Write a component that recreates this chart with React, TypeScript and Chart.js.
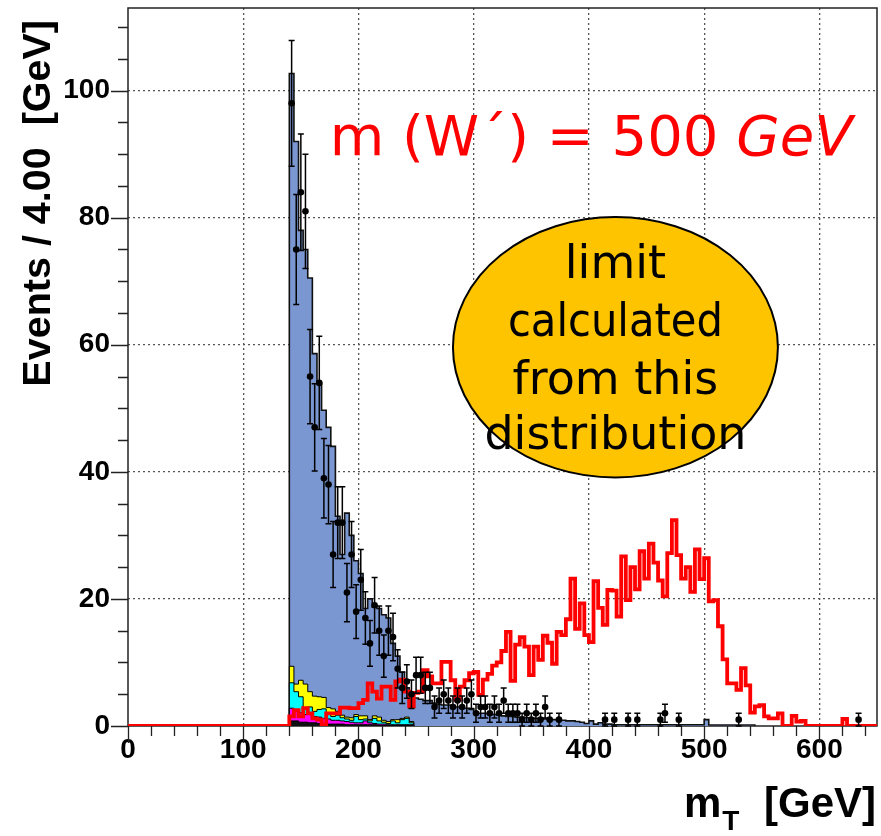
import React, { useEffect, useRef } from 'react';
import { Chart, registerables } from 'chart.js';

Chart.register(...registerables);

// ---------------- data ----------------
const BIN_WIDTH = 4; // GeV
const FIRST_EDGE = 140; // GeV, lower edge of first filled bin
const X_MIN = 0;
const X_MAX = 650;
const Y_MIN = 0;
const Y_MAX = 113;
const X_TICKS = [0, 100, 200, 300, 400, 500, 600];
const Y_TICKS = [0, 20, 40, 60, 80, 100];
const X_MINOR_STEP = 20;
const Y_MINOR_STEP = 5;

// W+jets (blue) contribution per 4 GeV bin, starting at 140 GeV
const WJETS = [
  93.3, 85.4, 70.8, 68.4, 65.1, 53.9, 49.4, 45.2, 44.1, 41.3,
  30.7, 25.3, 32.1, 28.7, 24.2, 22.4, 16.9, 19.0, 17.1, 17.1,
  16.6, 16.3, 12.0, 10.0, 7.3, 4.6, 4.1, 4.4, 4.2, 4.0,
  4.0, 3.6, 3.4, 3.3, 3.3, 3.2, 3.0, 2.8, 2.8, 2.6,
  2.2, 2.0, 2.0, 1.9, 1.8, 1.7, 1.6, 1.5, 1.5, 1.4,
  1.4, 1.3, 1.3, 1.2, 1.2, 1.1, 1.0, 1.0, 0.9, 0.9,
  0.8, 0.8, 0.7, 0.6, 0.4, 0.8, 0.3, 0.5, 0.3, 0.3,
  0.2, 0.2, 0.2, 0.2, 0.2, 0.2, 0.2, 0.2, 0.2, 0.2,
  0.2, 0.2, 0.2, 0.2, 0.2, 0.2, 0.2, 0.2, 0.2, 0.2,
  1.0, 0.15, 0.15, 0.15, 0.15, 0.15, 0.15, 0.15, 0.15, 0.15,
  0.15,
];

// small backgrounds (stacked under the blue), starting at 140 GeV
const YELLOW = [
  2.6, 1.2, 2.6, 3.8, 2.4, 2.4, 2.0, 1.8, 1.0, 1.2,
  0.6, 0.4, 0.3, 0.4, 0.3, 0.6, 0.5, 0.2, 0.4, 0.6,
  0.3, 0.3, 0.2, 0.5, 0.2, 0.2, 0.2,
];
const CYAN = [
  4.0, 3.0, 2.5, 1.0, 1.2, 0.8, 1.2, 1.5, 0.8, 0.6,
  0.8, 0.5, 0.4, 0.3, 1.0, 0.5, 0.3, 0.3, 0.8, 0.5,
  0.3, 0.2, 0.6, 0.3, 0.8, 1.0, 0.3,
];
const MAGENTA = [
  2.0, 1.6, 1.5, 1.2, 1.3, 1.0, 1.0, 0.8, 0.8, 0.6,
  0.6, 0.5, 0.5, 0.4, 0.3, 0.3, 0.6, 0.3, 0.2, 0.2,
  0.2, 0.1, 0.1, 0.1, 0.1, 0.1, 0.1,
];
const DARK = [
  0.8, 0.8, 0.6, 0.6, 0.5, 0.5, 0.4, 0.4, 0.3, 0.3,
  0.3, 0.3, 0.2, 0.2, 0.2, 0.2, 0.2, 0.2, 0.2, 0.1,
  0.1, 0.1, 0.1, 0.1, 0.1, 0.1, 0.1,
];

// W' (500 GeV) signal, red outline, starting at 140 GeV
const SIGNAL = [
  1.5, 2.5, 1.5, 2.8, 2.0, 1.2, 1.0, 0.2, 2.0, 2.0,
  2.0, 2.9, 2.9, 2.8, 2.8, 3.6, 4.1, 6.7, 5.4, 4.3,
  6.2, 6.2, 4.1, 7.0, 7.3, 5.4, 3.1, 5.2, 5.4, 8.8,
  7.8, 6.7, 6.7, 10.1, 10.1, 7.2, 4.1, 6.2, 7.2, 8.3,
  8.5, 4.9, 7.3, 8.2, 9.5, 10.0, 11.8, 14.8, 7.1, 12.8,
  14.0, 12.5, 8.0, 12.5, 10.4, 14.2, 13.1, 9.8, 14.8, 14.3,
  16.8, 23.2, 15.3, 19.3, 14.3, 13.2, 22.8, 18.6, 15.9, 21.4,
  21.3, 17.2, 26.7, 19.8, 25.0, 21.5, 27.5, 23.2, 28.7, 25.7,
  22.9, 20.4, 27.2, 32.4, 26.9, 23.2, 25.0, 21.1, 27.8, 23.1,
  26.4, 19.6, 19.8, 15.7, 10.5, 6.7, 6.7, 5.7, 9.1, 6.4,
  2.1, 3.1, 3.3, 1.5, 1.2, 1.2, 2.0, 0, 0, 1.6,
  0.7, 0.8, 0, 0, 0, 0, 0, 0, 0, 0,
  1.1, 0, 0, 0, 0, 0, 0,
];

// observed events per bin, starting at 140 GeV
const DATA_COUNTS = [
  98, 75, 84, 81, 55, 47, 54, 39, 38, 27,
  32, 32, 21, 27, 18, 23, 17, 13, 19, 15,
  11, 15, 14, 9, 6, 7, 5, 8, 8, 6,
  6, 3, 4, 5, 4, 3, 4, 3, 4, 5,
  2, 3, 3, 2, 3, 2, 4, 2, 2, 2,
  1, 2, 1, 2, 1, 3, 1, 0, 1, 0,
  0, 0, 0, 0, 0, 0, 0, 0, 1, 0,
  1, 0, 0, 1, 0, 1, 0, 0, 0, 0,
  1, 2, 0, 0, 1, 0, 0, 0, 0, 0,
  0, 0, 0, 0, 0, 0, 0, 1, 0, 0,
  0, 0, 0, 0, 0, 0, 0, 0, 0, 0,
  0, 0, 0, 0, 0, 0, 0, 0, 0, 0,
  0, 0, 0, 1,
];

// texts
const Y_TITLE = 'Events / 4.00  [GeV]';
const X_TITLE_MAIN = 'm';
const X_TITLE_SUB = 'T';
const X_TITLE_UNIT = '[GeV]';
const MASS_LABEL = 'm (W\u00B4) = 500 ';
const MASS_UNIT = 'GeV';
const BUBBLE_LINES = ['limit', 'calculated', 'from this', 'distribution'];

// annotation anchors in data units
const MASS_LABEL_POS = { x: 175, y: 89.9 };
const BUBBLE = { cx: 423, cy: 59.6, rx: 141, ry: 20.5 };
const BUBBLE_BASELINES = [70.5, 61.4, 52.3, 43.6];
const BUBBLE_MAXW = [110, 215, 215, 262];

const AXIS_FONT = "'Liberation Sans', Arial, Helvetica, sans-serif";
const NOTE_FONT = "'DejaVu Sans', 'Noto Sans', sans-serif";

function stepPoints(values: number[], lead?: number, tail?: number) {
  const pts: { x: number; y: number }[] = [];
  if (lead !== undefined) pts.push({ x: lead, y: 0 });
  pts.push({ x: FIRST_EDGE, y: 0 });
  values.forEach((v, i) => pts.push({ x: FIRST_EDGE + i * BIN_WIDTH, y: v }));
  pts.push({ x: FIRST_EDGE + values.length * BIN_WIDTH, y: 0 });
  if (tail !== undefined) pts.push({ x: tail, y: 0 });
  return pts;
}

const rootAxesPlugin = {
  id: 'rootAxes',
  beforeDatasetsDraw(chart: any) {
    const { ctx, chartArea: a, scales } = chart;
    const x = scales.x;
    const y = scales.y;
    ctx.save();
    ctx.strokeStyle = '#222';
    ctx.lineWidth = 1.5;
    ctx.strokeRect(a.left, a.top, a.right - a.left, a.bottom - a.top);
    ctx.beginPath();
    for (let v = X_MIN; v <= X_MAX; v += X_MINOR_STEP) {
      const px = Math.round(x.getPixelForValue(v)) + 0.5;
      const len = X_TICKS.includes(v) ? 17 : 10;
      ctx.moveTo(px, a.bottom);
      ctx.lineTo(px, a.bottom + len);
    }
    for (let v = Y_MIN; v <= Y_MAX; v += Y_MINOR_STEP) {
      const py = Math.round(y.getPixelForValue(v)) + 0.5;
      const len = Y_TICKS.includes(v) ? 17 : 10;
      ctx.moveTo(a.left, py);
      ctx.lineTo(a.left - len, py);
    }
    ctx.lineWidth = 1.3;
    ctx.stroke();
    ctx.restore();
  },
};

const errorBarPlugin = {
  id: 'errorBars',
  afterDatasetsDraw(chart: any) {
    const { ctx, scales } = chart;
    const x = scales.x;
    const y = scales.y;
    ctx.save();
    ctx.strokeStyle = '#000';
    ctx.lineWidth = 1.5;
    DATA_COUNTS.forEach((n, i) => {
      if (n <= 0) return;
      const c = FIRST_EDGE + (i + 0.5) * BIN_WIDTH;
      const err = Math.sqrt(n); // Poisson uncertainty
      const px = x.getPixelForValue(c);
      const top = y.getPixelForValue(n + err);
      const bot = y.getPixelForValue(Math.max(n - err, 0));
      const hl = x.getPixelForValue(FIRST_EDGE + i * BIN_WIDTH);
      const hr = x.getPixelForValue(FIRST_EDGE + (i + 1) * BIN_WIDTH);
      const py = y.getPixelForValue(n);
      ctx.beginPath();
      ctx.moveTo(px, top);
      ctx.lineTo(px, bot);
      ctx.moveTo(px - 3, top);
      ctx.lineTo(px + 3, top);
      ctx.moveTo(px - 3, bot);
      ctx.lineTo(px + 3, bot);
      ctx.moveTo(hl, py);
      ctx.lineTo(hr, py);
      ctx.stroke();
    });
    ctx.restore();
  },
};

const annotationPlugin = {
  id: 'annotations',
  afterDraw(chart: any) {
    const { ctx, chartArea: a, scales } = chart;
    const x = scales.x;
    const y = scales.y;
    ctx.save();

    // axis titles
    ctx.fillStyle = '#000';
    ctx.font = `bold 39.5px ${AXIS_FONT}`;
    ctx.save();
    ctx.translate(50, a.top + 12);
    ctx.rotate(-Math.PI / 2);
    ctx.textAlign = 'right';
    ctx.textBaseline = 'alphabetic';
    ctx.fillText(Y_TITLE, 0, 0);
    ctx.restore();

    ctx.textBaseline = 'alphabetic';
    ctx.font = `bold 42px ${AXIS_FONT}`;
    ctx.textAlign = 'right';
    ctx.fillText(X_TITLE_UNIT, a.right - 1, 817);
    ctx.textAlign = 'left';
    const mX = a.right - 193;
    ctx.fillText(X_TITLE_MAIN, mX, 817);
    const mW = ctx.measureText(X_TITLE_MAIN).width;
    ctx.font = `bold 28px ${AXIS_FONT}`;
    ctx.fillText(X_TITLE_SUB, mX + mW + 1, 830);

    // red mass label
    const lx = x.getPixelForValue(MASS_LABEL_POS.x);
    const ly = y.getPixelForValue(MASS_LABEL_POS.y);
    ctx.fillStyle = '#ff0000';
    ctx.font = `56px ${NOTE_FONT}`;
    ctx.textAlign = 'left';
    ctx.fillText(MASS_LABEL, lx, ly);
    const w1 = ctx.measureText(MASS_LABEL).width;
    ctx.font = `italic 56px ${NOTE_FONT}`;
    ctx.fillText(MASS_UNIT, lx + w1, ly);

    // yellow bubble
    const cx = x.getPixelForValue(BUBBLE.cx);
    const cy = y.getPixelForValue(BUBBLE.cy);
    const rx = x.getPixelForValue(BUBBLE.cx + BUBBLE.rx) - cx;
    const ry = cy - y.getPixelForValue(BUBBLE.cy + BUBBLE.ry);
    ctx.beginPath();
    ctx.ellipse(cx, cy, rx, ry, 0, 0, Math.PI * 2);
    ctx.fillStyle = '#ffc400';
    ctx.fill();
    ctx.lineWidth = 2;
    ctx.strokeStyle = '#000';
    ctx.stroke();

    ctx.fillStyle = '#000';
    ctx.font = `46px ${NOTE_FONT}`;
    ctx.textAlign = 'center';
    BUBBLE_LINES.forEach((t, i) => {
      ctx.fillText(t, cx, y.getPixelForValue(BUBBLE_BASELINES[i]), BUBBLE_MAXW[i]);
    });
    ctx.restore();
  },
};

export default function App() {
  const ref = useRef<HTMLCanvasElement | null>(null);

  useEffect(() => {
    const canvas = ref.current;
    if (!canvas) return;

    const layerDark = DARK.slice();
    const layerMagenta = layerDark.map((v, i) => v + MAGENTA[i]);
    const layerCyan = layerMagenta.map((v, i) => v + CYAN[i]);
    const layerYellow = layerCyan.map((v, i) => v + YELLOW[i]);
    const layerTotal = WJETS.map((v, i) => v + (layerYellow[i] ?? 0));

    const dataPts = DATA_COUNTS.map((n, i) => ({ x: FIRST_EDGE + (i + 0.5) * BIN_WIDTH, y: n })).filter(
      (p) => p.y > 0,
    );

    const gridColor = (c: any) => (c.tick && c.tick.value === 0 ? 'rgba(0,0,0,0)' : '#555');
    const tickFont = { family: AXIS_FONT, weight: 'bold' as const, size: 28 };

    const chart = new Chart(canvas, {
      type: 'line',
      data: {
        datasets: [
          {
            label: 'data',
            data: dataPts,
            showLine: false,
            pointRadius: 3.3,
            pointBackgroundColor: '#000',
            pointBorderColor: '#000',
            pointBorderWidth: 0,
          },
          {
            label: "W' 500 GeV",
            data: stepPoints(SIGNAL, X_MIN, X_MAX),
            stepped: true,
            borderColor: '#ff0000',
            borderWidth: 3.8,
            pointRadius: 0,
            fill: false,
          },
          {
            label: 'dark',
            data: stepPoints(layerDark),
            stepped: true,
            borderColor: '#000',
            borderWidth: 1,
            backgroundColor: '#111111',
            fill: 'origin',
            pointRadius: 0,
          },
          {
            label: 'magenta',
            data: stepPoints(layerMagenta),
            stepped: true,
            borderColor: '#000',
            borderWidth: 1,
            backgroundColor: '#ff00ff',
            fill: 'origin',
            pointRadius: 0,
          },
          {
            label: 'cyan',
            data: stepPoints(layerCyan),
            stepped: true,
            borderColor: '#000',
            borderWidth: 1,
            backgroundColor: '#00ffff',
            fill: 'origin',
            pointRadius: 0,
          },
          {
            label: 'yellow',
            data: stepPoints(layerYellow),
            stepped: true,
            borderColor: '#000',
            borderWidth: 1,
            backgroundColor: '#ffff00',
            fill: 'origin',
            pointRadius: 0,
          },
          {
            label: 'W+jets',
            data: stepPoints(layerTotal),
            stepped: true,
            borderColor: '#111',
            borderWidth: 1.6,
            backgroundColor: '#7b97d2',
            fill: 'origin',
            pointRadius: 0,
          },
        ],
      },
      options: {
        responsive: false,
        maintainAspectRatio: false,
        animation: false,
        events: [],
        layout: { padding: { top: 8, right: 2, left: 0, bottom: 0 } },
        plugins: {
          legend: { display: false },
          tooltip: { enabled: false },
          title: { display: false },
        },
        scales: {
          x: {
            type: 'linear',
            min: X_MIN,
            max: X_MAX,
            afterBuildTicks: (s: any) => {
              s.ticks = X_TICKS.map((v) => ({ value: v }));
            },
            afterFit: (s: any) => {
              s.height = 110;
              s.paddingLeft = 0;
              s.paddingRight = 0;
            },
            ticks: {
              font: tickFont,
              color: '#000',
              padding: 7,
              maxRotation: 0,
              autoSkip: false,
              callback: (v: any) => String(v),
            },
            grid: { drawTicks: false, color: gridColor, lineWidth: 1.3 },
            border: { display: false, dash: [2, 3] },
          },
          y: {
            type: 'linear',
            min: Y_MIN,
            max: Y_MAX,
            afterBuildTicks: (s: any) => {
              s.ticks = Y_TICKS.map((v) => ({ value: v }));
            },
            afterFit: (s: any) => {
              s.width = 128;
              s.paddingTop = 0;
              s.paddingBottom = 0;
            },
            ticks: {
              font: tickFont,
              color: '#000',
              padding: 18,
              autoSkip: false,
              callback: (v: any) => String(v),
            },
            grid: { drawTicks: false, color: gridColor, lineWidth: 1.3 },
            border: { display: false, dash: [2, 3] },
          },
        },
      },
      plugins: [rootAxesPlugin, errorBarPlugin, annotationPlugin],
    } as any);

    return () => chart.destroy();
  }, []);

  return (
    <div style={{ position: 'fixed', left: 0, top: 0, width: 881, height: 836, background: '#ffffff' }}>
      <canvas ref={ref} width={881} height={836} style={{ display: 'block', width: 881, height: 836 }} />
    </div>
  );
}
